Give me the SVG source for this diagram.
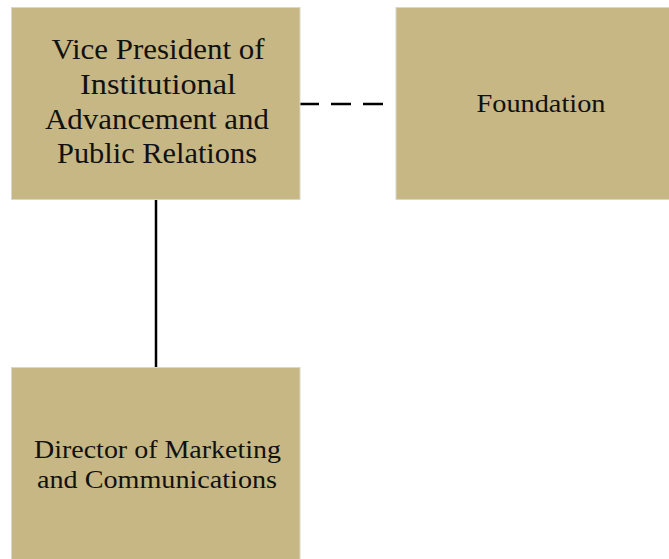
<svg xmlns="http://www.w3.org/2000/svg" width="669" height="559" viewBox="0 0 669 559">
<style>
.box{fill:#C6B784;stroke:#D9D6CC;stroke-width:1}
.t{font-family:"Liberation Serif","Times New Roman",serif;fill:#111;text-anchor:middle}
.big{font-size:29px}
.med{font-size:25px}
.conn{stroke:#000;stroke-width:2.5;fill:none}
</style>
<rect width="669" height="559" fill="#fff"/>
<g id="connectors">
<line class="conn" x1="156" y1="199" x2="156" y2="368"/>
<line class="conn" x1="299" y1="104" x2="385" y2="104" stroke-dasharray="20 12"/>
</g>
<g id="vp">
<rect class="box" x="11.5" y="7.5" width="288.5" height="192"/>
<text class="t big" x="158" y="59" textLength="213" lengthAdjust="spacingAndGlyphs">Vice President of</text>
<text class="t big" x="158" y="94" textLength="156" lengthAdjust="spacingAndGlyphs">Institutional</text>
<text class="t big" x="157" y="129" textLength="224" lengthAdjust="spacingAndGlyphs">Advancement and</text>
<text class="t big" x="157" y="163" textLength="200" lengthAdjust="spacingAndGlyphs">Public Relations</text>
</g>
<g id="foundation">
<rect class="box" x="396" y="7.5" width="280" height="192"/>
<text class="t med" x="541" y="112" textLength="129" lengthAdjust="spacingAndGlyphs">Foundation</text>
</g>
<g id="director">
<rect class="box" x="11.5" y="367.5" width="288.5" height="200"/>
<text class="t med" x="157.5" y="458" textLength="247" lengthAdjust="spacingAndGlyphs">Director of Marketing</text>
<text class="t med" x="157" y="488" textLength="240" lengthAdjust="spacingAndGlyphs">and Communications</text>
</g>
</svg>
